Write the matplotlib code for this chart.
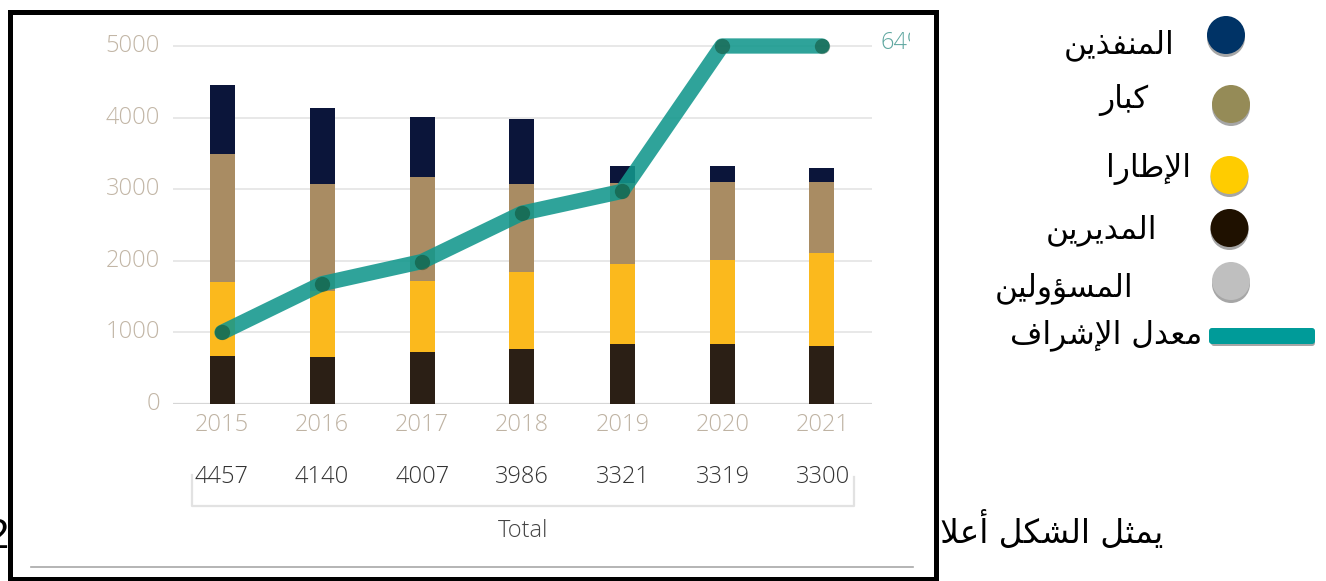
import matplotlib
matplotlib.use("Agg")
import matplotlib.pyplot as plt
from matplotlib.patches import Rectangle, Circle, FancyBboxPatch
import numpy as np

# ---------------- data ----------------
years = ['2015', '2016', '2017', '2018', '2019', '2020', '2021']
totals = [4457, 4140, 4007, 3986, 3321, 3319, 3300]
managers = [670, 660, 722, 768, 834, 834, 810]          # المديرين (dark brown, bottom)
cadres = [1034, 915, 996, 1080, 1117, 1177, 1295]       # الإطارات (yellow)
senior_cadres = [1788, 1491, 1457, 1220, 1135, 1094, 1000]  # كبار الإطارات (tan)
executors = [965, 1074, 832, 918, 235, 214, 195]        # المنفذين (navy, top)
supervision = [1000, 1680, 1990, 2665, 2970, 5000, 5000]  # معدل الإشراف (line)
yticks = [0, 1000, 2000, 3000, 4000, 5000]
line_end_label = '64%'

legend_labels = ['المنفذين', 'كبار', 'الإطارا', 'المديرين', 'المسؤولين', 'معدل الإشراف']
caption = 'يمثل الشكل أعلاه'

# ---------------- simple Arabic shaping (presentation forms + RTL) ----------------
FORMS = {
    'ا': ('\uFE8D', '\uFE8E', None, None), 'أ': ('\uFE83', '\uFE84', None, None),
    'إ': ('\uFE87', '\uFE88', None, None), 'ؤ': ('\uFE85', '\uFE86', None, None),
    'د': ('\uFEA9', '\uFEAA', None, None), 'ذ': ('\uFEAB', '\uFEAC', None, None),
    'ر': ('\uFEAD', '\uFEAE', None, None), 'و': ('\uFEED', '\uFEEE', None, None),
    'ب': ('\uFE8F', '\uFE90', '\uFE91', '\uFE92'), 'ت': ('\uFE95', '\uFE96', '\uFE97', '\uFE98'),
    'ث': ('\uFE99', '\uFE9A', '\uFE9B', '\uFE9C'), 'س': ('\uFEB1', '\uFEB2', '\uFEB3', '\uFEB4'),
    'ش': ('\uFEB5', '\uFEB6', '\uFEB7', '\uFEB8'), 'ط': ('\uFEC1', '\uFEC2', '\uFEC3', '\uFEC4'),
    'ع': ('\uFEC9', '\uFECA', '\uFECB', '\uFECC'), 'ف': ('\uFED1', '\uFED2', '\uFED3', '\uFED4'),
    'ك': ('\uFED9', '\uFEDA', '\uFEDB', '\uFEDC'), 'ل': ('\uFEDD', '\uFEDE', '\uFEDF', '\uFEE0'),
    'م': ('\uFEE1', '\uFEE2', '\uFEE3', '\uFEE4'), 'ن': ('\uFEE5', '\uFEE6', '\uFEE7', '\uFEE8'),
    'ه': ('\uFEE9', '\uFEEA', '\uFEEB', '\uFEEC'), 'ي': ('\uFEF1', '\uFEF2', '\uFEF3', '\uFEF4'),
}
LAM_ALEF = {'ا': ('\uFEFB', '\uFEFC', None, None), 'أ': ('\uFEF7', '\uFEF8', None, None),
            'إ': ('\uFEF9', '\uFEFA', None, None), 'آ': ('\uFEF5', '\uFEF6', None, None)}


def shape(s):
    units = []
    i = 0
    while i < len(s):
        c = s[i]
        if c == 'ل' and i + 1 < len(s) and s[i + 1] in LAM_ALEF:
            units.append(LAM_ALEF[s[i + 1]])
            i += 2
            continue
        units.append(FORMS.get(c, c))
        i += 1
    out = []
    for k, u in enumerate(units):
        if isinstance(u, str):
            out.append(u)
            continue
        prev = units[k - 1] if k > 0 else None
        nxt = units[k + 1] if k + 1 < len(units) else None
        jp = isinstance(prev, tuple) and prev[2] is not None
        jn = isinstance(nxt, tuple) and u[2] is not None
        iso, fin, ini, med = u
        out.append(med if (jp and jn) else fin if jp else ini if jn else iso)
    return ''.join(reversed(out))


# ---------------- figure ----------------
W, H = 1326, 581
fig = plt.figure(figsize=(W / 100, H / 100), dpi=100)
fig.patch.set_facecolor('white')

bg = fig.add_axes([0, 0, 1, 1], zorder=0)
bg.set_xlim(0, W)
bg.set_ylim(H, 0)
bg.axis('off')

arab = ['DejaVu Sans']
num_font = ['Open Sans', 'DejaVu Sans']

# document text behind the chart image
bg.text(-14, 548, '2', fontsize=30, family=['Liberation Sans', 'DejaVu Sans'], color='black', zorder=1)
bg.text(1163, 543, shape(caption), fontsize=23.5, family=arab, ha='right', va='baseline', color='black', zorder=1)

# chart image (white with black frame)
bg.add_patch(Rectangle((9.5, 11.5), 926, 567.5, facecolor='white', edgecolor='black', lw=3.6, zorder=2))
bg.plot([31, 913], [567, 567], color='#a8a8a8', lw=1.2, zorder=3)

# ---------------- chart axes ----------------
px0, px1 = 173, 872
py_zero, py_top = 404, 24.5
ax = fig.add_axes([px0 / W, (H - py_zero) / H, (px1 - px0) / W, (py_zero - py_top) / H], zorder=3)
ax.set_facecolor('none')
x = np.arange(len(years))
ax.set_xlim(-0.49, 6.5)
ax.set_ylim(0, 5000 * (py_zero - py_top) / (py_zero - 46))
for s in ax.spines.values():
    s.set_visible(False)
ax.set_xticks([])
ax.set_yticks([])
for t in yticks[1:]:
    ax.axhline(t, color='#e8e8e8', lw=1.4, zorder=0)
ax.axhline(0, color='#d6d6d6', lw=1.6, zorder=0)

bw = 0.25
series = [(managers, '#2b1f15'), (cadres, '#fbb91d'), (senior_cadres, '#a98c63'), (executors, '#0b153a')]
bottom = np.zeros(len(years))
for vals, col in series:
    ax.bar(x, vals, bw, bottom=bottom, color=col, zorder=2, linewidth=0)
    bottom += np.array(vals)

ax.plot(x, supervision, color='#12978c', lw=11, alpha=0.88, solid_capstyle='round',
        solid_joinstyle='round', zorder=4, clip_on=False)
ax.plot(x, supervision, 'o', ms=11, color='#0a3f22', alpha=0.45, zorder=5, clip_on=False, mec='none')

# y tick labels
for t in yticks:
    bg.text(160, py_zero - t * (py_zero - 46) / 5000, str(t), ha='right', va='center', fontsize=17,
            family=num_font, fontweight='light', color='#c2b6a6', zorder=4)

# x tick labels & totals
for i, (yr, tot) in enumerate(zip(years, totals)):
    cx = 222 + 100.1 * i
    bg.text(cx, 425, yr, ha='center', va='center', fontsize=17, family=num_font, fontweight='light',
            color='#bfb3a3', zorder=4)
    bg.text(cx, 477, str(tot), ha='center', va='center', fontsize=17, family=num_font, fontweight='light',
            color='#333333', zorder=4)
bg.plot([192, 192, 854, 854], [475, 505.5, 505.5, 477], color='#e2e2e2', lw=1.6, zorder=4)
bg.text(523, 531, 'Total', ha='center', va='center', fontsize=17, family=num_font, fontweight='light',
        color='#444444', zorder=4)

# line end label, cut off on the right like the original
bg.text(881, 43, line_end_label, ha='left', va='center', fontsize=17, family=num_font,
        fontweight='light', color='#5fa7a0', zorder=4)
bg.add_patch(Rectangle((910, 22), 22, 45, facecolor='white', edgecolor='none', zorder=4.5))

# ---------------- legend (outside chart) ----------------
circ = [(1226, 35, '#003366'), (1231, 104, '#958b57'), (1229.5, 175, '#ffcc00'),
        (1229.5, 228, '#1f1100'), (1231, 281, '#bfbfbf')]
for cx, cy, col in circ:
    bg.add_patch(Circle((cx, cy + 3), 19, facecolor='#a6a6a6', edgecolor='none', zorder=5))
    bg.add_patch(Circle((cx, cy), 19, facecolor=col, edgecolor='none', zorder=6))
bg.add_patch(FancyBboxPatch((1211, 331), 104, 15, boxstyle='round,pad=0,rounding_size=3',
                            facecolor='#a6a6a6', edgecolor='none', zorder=5))
bg.add_patch(FancyBboxPatch((1209, 328), 106, 16, boxstyle='round,pad=0,rounding_size=3',
                            facecolor='#009b99', edgecolor='none', zorder=6))

leg_pos = [(1175, 53), (1148, 108), (1191, 177), (1157, 238), (1133, 296), (1202, 343)]
for (rx, by), lab in zip(leg_pos, legend_labels):
    bg.text(rx, by, shape(lab), ha='right', va='baseline', fontsize=22.5, family=arab, color='black', zorder=6)

fig.savefig('out.png', dpi=100, facecolor='white')
